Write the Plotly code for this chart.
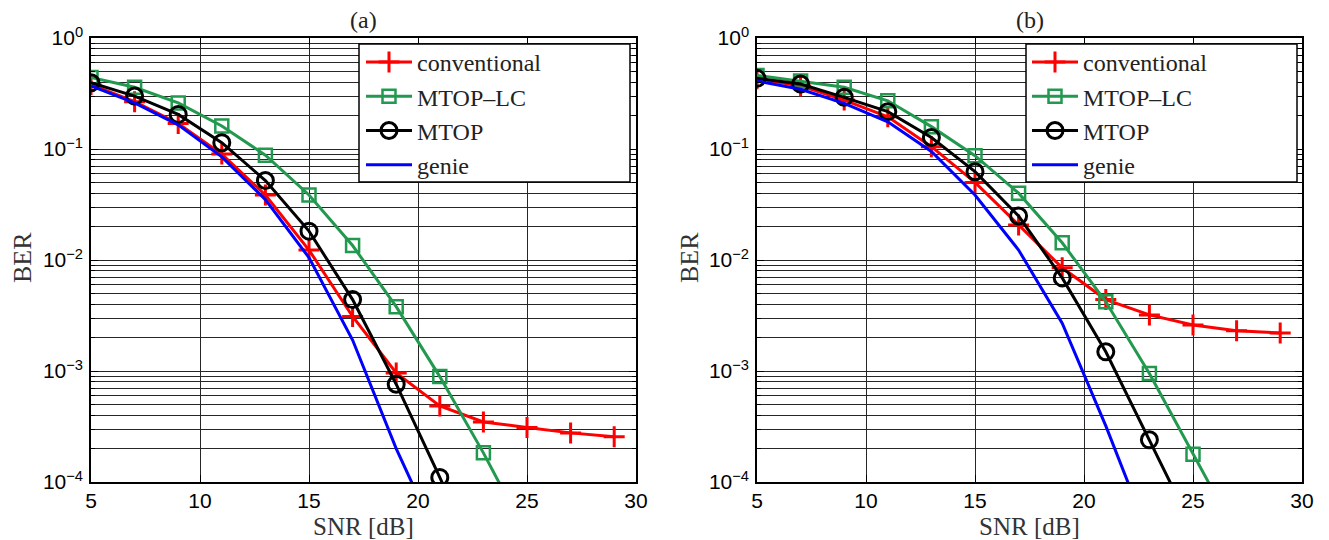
import plotly.graph_objects as go

# page places the figure 8px in from the top-left corner (default body margin)
OFF = 8
W, H = 1329 - OFF, 540 - OFF

# ---------------- data ----------------
snr = [5, 7, 9, 11, 13, 15, 17, 19, 21, 23, 25, 27, 29]

# (a)
conv_a = [0.38, 0.267, 0.17, 0.090, 0.0385, 0.0123, 0.0031, 0.00096, 0.000484, 0.000347, 0.00031, 0.000277, 0.000256]
mtoplc_a = [0.44, 0.36, 0.26, 0.161, 0.088, 0.0385, 0.0135, 0.0038, 0.00089, 0.000183, 3.3e-5]
mtop_a = [0.395, 0.30, 0.205, 0.114, 0.052, 0.0182, 0.0044, 0.00076, 0.00011, 1.5e-5]
genie_a = [0.37, 0.26, 0.165, 0.085, 0.035, 0.0105, 0.0019, 0.0002, 2.8e-5]

# (b)
conv_b = [0.43, 0.37, 0.276, 0.195, 0.105, 0.050, 0.0207, 0.0085, 0.0044, 0.0032, 0.0026, 0.0023, 0.0022]
mtoplc_b = [0.46, 0.41, 0.36, 0.272, 0.159, 0.087, 0.040, 0.0143, 0.0042, 0.00095, 0.000178, 3.4e-5]
mtop_b = [0.433, 0.385, 0.292, 0.217, 0.127, 0.0625, 0.0249, 0.0069, 0.00149, 0.00024, 3.8e-5]
genie_b = [0.41, 0.345, 0.258, 0.176, 0.095, 0.0385, 0.0123, 0.0027, 0.00032, 3.2e-5]

names = ["conventional", "MTOP\u2013LC", "MTOP", "genie"]
panel_titles = ["(a)", "(b)"]
x_tickvals = [5, 10, 15, 20, 25, 30]
y_tickvals = [1e-4, 1e-3, 1e-2, 1e-1, 1]
y_ticktext = ["10<sup>\u22124</sup>", "10<sup>\u22123</sup>", "10<sup>\u22122</sup>",
              "10<sup>\u22121</sup>", "10<sup>0</sup>"]
x_title = "SNR [dB]"
y_title = "BER"

# ---------------- styles ----------------
RED = "#ff0000"
GREEN = "#22994f"
BLACK = "#000000"
BLUE = "#0000ff"
SERIF = "Liberation Serif, Times New Roman, serif"
SANS = "Liberation Sans, Arial, sans-serif"
GRID = "#262626"


def px(X):
    return (X - OFF) / W


def py(Y):
    return 1 - (Y - OFF) / H


fig = go.Figure()


def add_panel(conv, lc, mt, gen, xa, ya, legend):
    fig.add_trace(go.Scatter(
        x=snr[:len(conv)], y=conv, name=names[0], mode="lines+markers",
        line=dict(color=RED, width=3),
        marker=dict(symbol="cross-thin", size=15, color=RED, line=dict(color=RED, width=3)),
        xaxis=xa, yaxis=ya, legend=legend, cliponaxis=True))
    fig.add_trace(go.Scatter(
        x=snr[:len(lc)], y=lc, name=names[1], mode="lines+markers",
        line=dict(color=GREEN, width=3),
        marker=dict(symbol="square-open", size=13, color=GREEN, line=dict(color=GREEN, width=2.5)),
        xaxis=xa, yaxis=ya, legend=legend, cliponaxis=True))
    fig.add_trace(go.Scatter(
        x=snr[:len(mt)], y=mt, name=names[2], mode="lines+markers",
        line=dict(color=BLACK, width=3),
        marker=dict(symbol="circle-open", size=16, color=BLACK, line=dict(color=BLACK, width=3)),
        xaxis=xa, yaxis=ya, legend=legend, cliponaxis=True))
    fig.add_trace(go.Scatter(
        x=snr[:len(gen)], y=gen, name=names[3], mode="lines",
        line=dict(color=BLUE, width=3),
        xaxis=xa, yaxis=ya, legend=legend, cliponaxis=True))


add_panel(conv_a, mtoplc_a, mtop_a, genie_a, "x", "y", "legend")
add_panel(conv_b, mtoplc_b, mtop_b, genie_b, "x2", "y2", "legend2")

xdom_a = [px(91), px(636)]
xdom_b = [px(757), px(1302)]
ydom = [py(482), py(38)]

xcommon = dict(range=[5, 30], tickvals=x_tickvals, showgrid=True, gridcolor=GRID, gridwidth=1,
               showline=True, linecolor="black", linewidth=1.5, mirror="allticks",
               ticks="inside", ticklen=7, tickcolor="black",
               tickfont=dict(family=SANS, size=21, color="black"), zeroline=False,
               ticklabelstandoff=-1, automargin=False)
ycommon = dict(type="log", range=[-4, 0], tickvals=y_tickvals, ticktext=y_ticktext,
               showgrid=True, gridcolor=GRID, gridwidth=1,
               showline=True, linecolor="black", linewidth=1.5, mirror="allticks",
               ticks="inside", ticklen=7, tickcolor="black",
               tickfont=dict(family=SANS, size=21, color="black"),
               minor=dict(dtick="D1", showgrid=True, gridcolor=GRID, gridwidth=1,
                          ticks="inside", ticklen=4, tickcolor="black"),
               ticklabelstandoff=2, automargin=False)

leg_font = dict(family=SERIF, size=24, color="#222")
fig.update_layout(
    width=W, height=H,
    margin=dict(l=0, r=0, t=0, b=0, autoexpand=False),
    paper_bgcolor="white", plot_bgcolor="white",
    xaxis=dict(domain=xdom_a, anchor="y", **xcommon),
    yaxis=dict(domain=ydom, anchor="x", **ycommon),
    xaxis2=dict(domain=xdom_b, anchor="y2", **xcommon),
    yaxis2=dict(domain=ydom, anchor="x2", **ycommon),
    legend=dict(x=px(361), y=py(40), xanchor="left", yanchor="top",
                bgcolor="rgba(0,0,0,0)", borderwidth=0, itemwidth=46,
                font=leg_font, tracegroupgap=0),
    legend2=dict(x=px(1027), y=py(40), xanchor="left", yanchor="top",
                 bgcolor="rgba(0,0,0,0)", borderwidth=0, itemwidth=46,
                 font=leg_font, tracegroupgap=0),
    showlegend=True,
)

# legend boxes
for x0, x1 in [(359, 630), (1026, 1297)]:
    fig.add_shape(type="rect", xref="paper", yref="paper",
                  x0=px(x0), x1=px(x1), y0=py(182), y1=py(44),
                  fillcolor="white", line=dict(color="black", width=1.5), layer="above")

# titles and axis labels
for i, xd in enumerate([xdom_a, xdom_b]):
    cx = (xd[0] + xd[1]) / 2
    fig.add_annotation(text=panel_titles[i], x=cx, y=py(20), xref="paper", yref="paper",
                       showarrow=False, font=dict(family=SERIF, size=24, color="#222"),
                       xanchor="center", yanchor="middle", borderpad=0)
    fig.add_annotation(text=x_title, x=cx, y=py(526), xref="paper", yref="paper",
                       showarrow=False, font=dict(family=SERIF, size=25, color="#333"),
                       xanchor="center", yanchor="middle")
for X in [22, 689]:
    fig.add_annotation(text=y_title, x=px(X), y=py(258), xref="paper", yref="paper",
                       showarrow=False, textangle=-90,
                       font=dict(family=SERIF, size=26, color="#333"),
                       xanchor="center", yanchor="middle")

fig.write_html("out.html")
